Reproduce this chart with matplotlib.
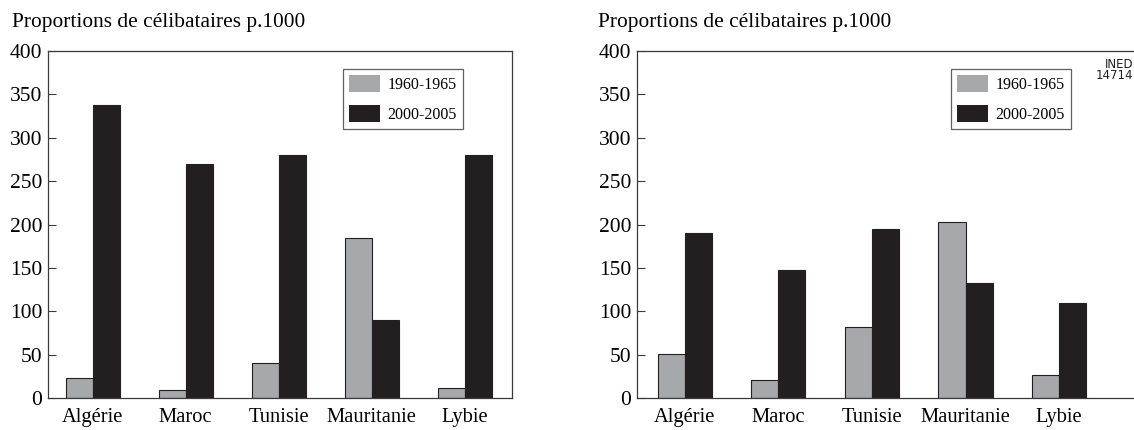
import matplotlib
matplotlib.use("Agg")
import matplotlib.pyplot as plt
from matplotlib.patches import Patch
import numpy as np

categories = ["Algérie", "Maroc", "Tunisie", "Mauritanie", "Lybie"]
series_labels = ["1960-1965", "2000-2005"]
left_1960 = [23, 9, 40, 184, 11]
left_2000 = [338, 270, 280, 90, 280]
right_1960 = [51, 21, 82, 203, 27]
right_2000 = [190, 148, 195, 132, 110]
y_ticks = [0, 50, 100, 150, 200, 250, 300, 350, 400]
title_text = "Proportions de célibataires p.1000"

GRAY = "#a7a8ab"
BLACK = "#231f20"
SPINE = "#3a3a3a"

plt.rcParams["font.family"] = ["Liberation Serif", "DejaVu Serif"]

fig = plt.figure(figsize=(11.34, 4.30), dpi=100)

def draw(ax, v1, v2, xlim, show_right):
    x = np.arange(len(categories))
    w = 0.29
    ax.bar(x - w / 2, v1, w, color=GRAY, edgecolor=BLACK, linewidth=0.8, zorder=2)
    ax.bar(x + w / 2, v2, w, color=BLACK, edgecolor=BLACK, linewidth=0.8, zorder=2)
    ax.set_ylim(0, 400)
    ax.set_xlim(*xlim)
    ax.set_yticks(y_ticks)
    ax.set_yticklabels([str(t) for t in y_ticks], fontsize=15.5)
    ax.set_xticks(x)
    ax.set_xticklabels(categories, fontsize=14.8)
    ax.tick_params(axis="y", direction="in", length=6, width=0.8, color=SPINE, pad=4)
    ax.tick_params(axis="x", length=0, pad=7.5)
    for s in ax.spines.values():
        s.set_color(SPINE)
        s.set_linewidth(0.9)
    ax.spines["right"].set_visible(show_right)
    handles = [Patch(facecolor=GRAY, edgecolor="none"), Patch(facecolor=BLACK, edgecolor="none")]
    leg = ax.legend(handles, series_labels, loc="upper right", fontsize=11.5,
                    frameon=True, fancybox=False, handlelength=1.95, handleheight=1.25,
                    labelspacing=0.75, borderpad=0.4, handletextpad=0.45, borderaxespad=0)
    leg.get_frame().set_edgecolor(SPINE)
    leg.get_frame().set_linewidth(0.9)
    return leg

W, H = 1134.0, 430.0
ax1 = fig.add_axes([48 / W, 1 - 398 / H, (512 - 48) / W, (398 - 51) / H])
leg1 = draw(ax1, left_1960, left_2000, (-0.48, 4.51), True)
leg1.set_bbox_to_anchor((463 / W, 1 - 69 / H), transform=fig.transFigure)

ax2 = fig.add_axes([637 / W, 1 - 398 / H, (1134 - 637) / W, (398 - 51) / H])
leg2 = draw(ax2, right_1960, right_2000, (-0.51, 4.80), False)
leg2.set_bbox_to_anchor((1071 / W, 1 - 69 / H), transform=fig.transFigure)

fig.text(12 / W, 1 - 22 / H, title_text, fontsize=15.4, ha="left", va="center")
fig.text(598 / W, 1 - 22 / H, title_text, fontsize=15.4, ha="left", va="center")

fig.text(1133 / W, 1 - 70 / H, "INED\n14714", fontsize=8.5, ha="right", va="center",
         family=["Liberation Sans Narrow", "DejaVu Sans"], linespacing=0.85,
         color="#231f20")

fig.savefig("out.png", dpi=100)
